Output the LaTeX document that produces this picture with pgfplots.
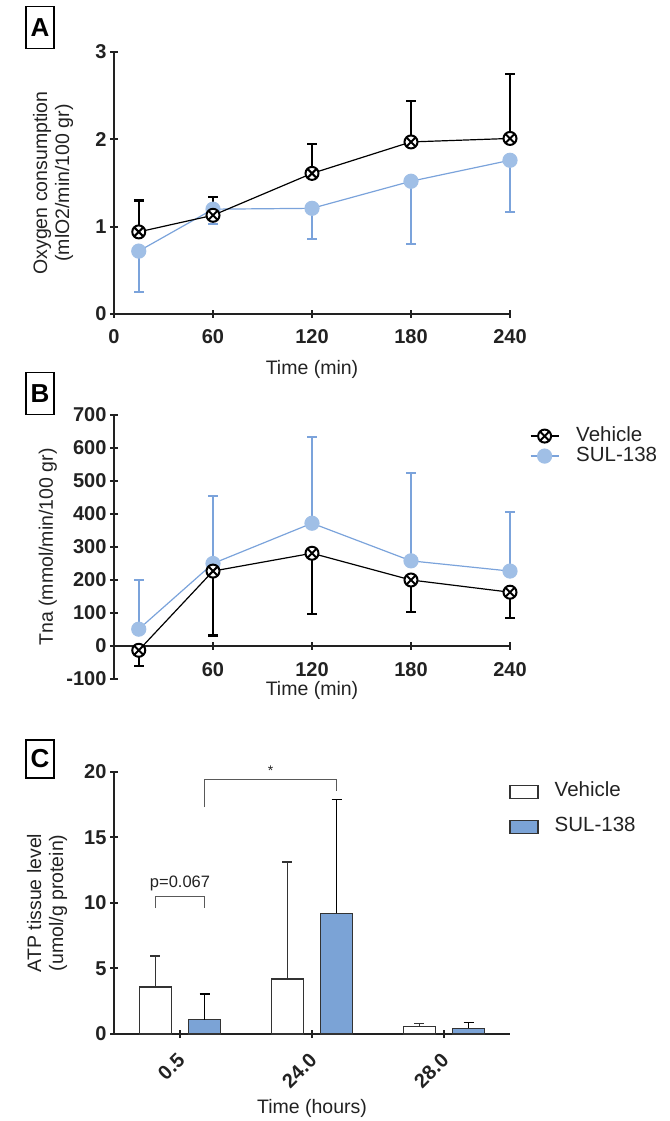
\documentclass[border=0pt]{standalone}
\usepackage{fontspec}
\setmainfont{Liberation Sans}
\usepackage{pgfplots}
\pgfplotsset{compat=1.18}
\usetikzlibrary{plotmarks}

\definecolor{sulline}{HTML}{7BA3DB}
\definecolor{sulmark}{HTML}{A0BFE6}
\definecolor{sulbar}{HTML}{7BA3D6}
\definecolor{axgray}{HTML}{222222}
\definecolor{bardraw}{HTML}{333333}

\pgfplotsset{
  panel/.style={
    scale only axis, width=396pt,
    axis line style={line width=2pt, axgray},
    tick style={line width=2pt, axgray},
    major tick length=8pt,
    tick align=outside,
    tick label style={font=\fontsize{20}{24}\selectfont\bfseries, text=axgray},
    label style={font=\fontsize{19.5}{22}\selectfont, text=axgray},
    clip=false,
  },
  noarrows/.style={x axis line style={-}, y axis line style={-}},
  vehstyle/.style={black, line width=1.2pt, mark=otimes*, mark size=6.5pt,
    mark options={fill=white, line width=2pt},
    error bars/.cd, y dir=#1, y explicit,
    error bar style={line width=2.2pt, black},
    error mark options={rotate=90, mark size=5pt, line width=2.2pt, black}},
  sulstyle/.style={color=sulline, line width=1.2pt, mark=*, mark size=7pt,
    mark options={fill=sulmark, draw=sulmark},
    error bars/.cd, y dir=#1, y explicit,
    error bar style={line width=2pt, color=sulline},
    error mark options={rotate=90, mark size=5pt, line width=2pt, color=sulline}},
  barstyle/.style={ybar, bar width=32pt, bar shift=0pt, draw=bardraw, line width=1.5pt,
    error bars/.cd, y dir=plus, y explicit,
    error bar style={line width=1.4pt, color=#1},
    error mark options={rotate=90, mark size=5pt, line width=1.4pt, color=#1}},
}

\begin{document}
\begin{tikzpicture}
\useasboundingbox (0,0) rectangle (669pt,1121pt);

% panel labels
\node[draw, line width=1.3pt, minimum width=28pt, minimum height=42pt, inner sep=0pt,
  font=\fontsize{26}{26}\selectfont\bfseries] at (40pt,1093.5pt) {A};
\node[draw, line width=1.3pt, minimum width=28pt, minimum height=42pt, inner sep=0pt,
  font=\fontsize{26}{26}\selectfont\bfseries] at (40pt,727.5pt) {B};
\node[draw, line width=1.3pt, minimum width=28pt, minimum height=38pt, inner sep=0pt,
  font=\fontsize{26}{26}\selectfont\bfseries] at (40pt,362pt) {C};

% ---- A: oxygen consumption
\begin{axis}[panel, at={(114pt,807pt)}, anchor=south west, height=262pt,
  xmin=0, xmax=240, ymin=0, ymax=3,
  axis x line=bottom, axis y line=left, noarrows,
  xtick={0,60,120,180,240}, xticklabels={0,60,120,180,240},
  x tick label style={yshift=-8pt},
  ytick={0,1,2,3}, yticklabels={0,1,2,3},
  xlabel={Time (min)},
  ylabel={Oxygen consumption\\(mlO2/min/100 gr)},
  ylabel style={align=center, at={(axis description cs:-0.154,0.5)}, anchor=center},
  xlabel style={at={(axis description cs:0.5,-0.21)}, anchor=center},
]
\addplot[sulstyle=minus] coordinates {
  (15,0.72) +- (0,0.47)
  (60,1.20) +- (0,0.17)
  (120,1.21) +- (0,0.35)
  (180,1.52) +- (0,0.72)
  (240,1.76) +- (0,0.59)
};
\addplot[vehstyle=plus] coordinates {
  (15,0.94) +- (0,0.36)
  (60,1.13) +- (0,0.21)
  (120,1.61) +- (0,0.34)
  (180,1.97) +- (0,0.47)
  (240,2.01) +- (0,0.74)
};
\end{axis}

% ---- B: Tna
\begin{axis}[panel, at={(114pt,442pt)}, anchor=south west, height=264pt,
  xmin=0, xmax=240, ymin=-100, ymax=700,
  axis x line=middle, axis y line=left, noarrows,
  xtick={60,120,180,240}, xticklabels={60,120,180,240},
  x tick label style={anchor=north, yshift=-9pt},
  ytick={-100,0,100,200,300,400,500,600,700},
  yticklabels={-100,0,100,200,300,400,500,600,700},
  xlabel={Time (min)},
  ylabel={Tna (mmol/min/100 gr)},
  ylabel style={at={(axis description cs:-0.167,0.5)}, anchor=center},
  xlabel style={at={(axis description cs:0.5,-0.045)}, anchor=center,
    font=\fontsize{19.5}{22}\selectfont, text=axgray},
  reverse legend,
  legend style={at={(axis description cs:1.05,0.955)}, anchor=north west,
    draw=none, fill=none, font=\fontsize{20.5}{22}\selectfont, text=axgray,
    cells={anchor=west}, row sep=2pt, column sep=17pt, inner sep=0pt,
    nodes={inner sep=0pt, text height=14pt, text depth=4pt}},
  legend image code/.code={\draw[mark repeat=2, mark phase=2, #1]
    plot coordinates {(0pt,0pt) (14pt,0pt) (28pt,0pt)};},
]
\addplot[sulstyle=plus] coordinates {
  (15,51) +- (0,149)
  (60,250) +- (0,205)
  (120,372) +- (0,260)
  (180,258) +- (0,267)
  (240,227) +- (0,180)
};
\addlegendentry{SUL-138}
\addplot[vehstyle=minus] coordinates {
  (15,-13) +- (0,48)
  (60,227) +- (0,195)
  (120,281) +- (0,185)
  (180,200) +- (0,97)
  (240,163) +- (0,79)
};
\addlegendentry{Vehicle}
\end{axis}

% ---- C: ATP (bars placed at category -/+ 0.186)
\begin{axis}[panel, at={(114pt,87pt)}, anchor=south west, height=262.3pt,
  xmin=-0.5, xmax=2.5, ymin=0, ymax=20,
  axis x line=bottom, axis y line=left, noarrows,
  xtick={0,1,2}, xticklabels={0.5,24.0,28.0},
  x tick label style={xshift=-4pt, yshift=-9pt, rotate=45, anchor=north east},
  ytick={0,5,10,15,20}, yticklabels={0,5,10,15,20},
  xlabel={Time (hours)},
  ylabel={ATP tissue level\\(umol/g protein)},
  ylabel style={align=center, at={(axis description cs:-0.169,0.5)}, anchor=center},
  xlabel style={at={(axis description cs:0.5,-0.282)}, anchor=center},
  legend style={at={(axis description cs:0.9975,0.958)}, anchor=north west,
    draw=none, fill=none, font=\fontsize{20.5}{22}\selectfont, text=axgray,
    cells={anchor=west}, row sep=17pt, column sep=16pt, inner sep=0pt,
    nodes={inner sep=0pt, text height=14pt, text depth=4pt}},
  legend image code/.code={\draw[#1] (0pt,-6.5pt) rectangle (28pt,6.5pt);},
]
\addplot[fill=white, barstyle=bardraw]
  coordinates {(-0.186,3.6) +- (0,2.35) (0.814,4.2) +- (0,8.9) (1.814,0.56) +- (0,0.23)};
\addlegendentry{Vehicle}
\addplot[fill=sulbar, barstyle=black]
  coordinates {(0.186,1.1) +- (0,1.95) (1.186,9.2) +- (0,8.7) (2.186,0.43) +- (0,0.43)};
\addlegendentry{SUL-138}

\draw[line width=1.2pt, black!65] (axis cs:-0.186,9.6) -- (axis cs:-0.186,10.5)
  -- (axis cs:0.186,10.5) -- (axis cs:0.186,9.6);
\node[font=\fontsize{16.5}{18}\selectfont, text=axgray] at (axis cs:0,11.5) {p=0.067};
\draw[line width=1.2pt, black!65] (axis cs:0.186,17.3) -- (axis cs:0.186,19.4)
  -- (axis cs:1.186,19.4) -- (axis cs:1.186,18.5);
\node[font=\fontsize{14}{14}\selectfont, text=axgray] at (axis cs:0.686,20.1) {*};
\end{axis}
\end{tikzpicture}
\end{document}
